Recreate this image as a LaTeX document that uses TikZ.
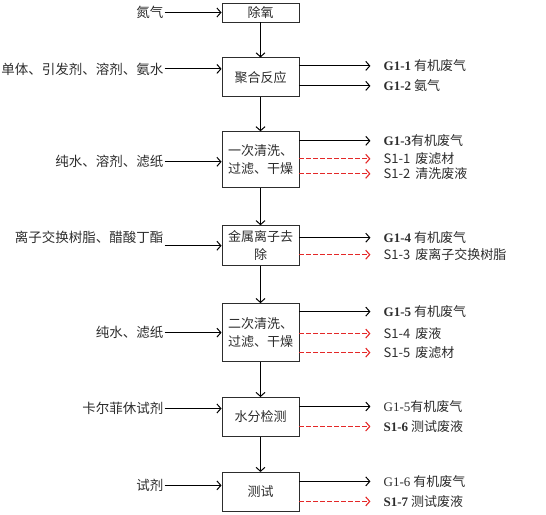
\documentclass[tikz,border=0pt]{standalone}
\usepackage{fontspec}
\usetikzlibrary{arrows.meta,positioning}
\setmainfont{Liberation Serif}
\newfontfamily\cjk{Noto Sans CJK SC}
\newfontfamily\lat{Liberation Serif}
\definecolor{ink}{RGB}{45,45,45}
\definecolor{wred}{RGB}{228,40,40}

\begin{document}
\begin{tikzpicture}[x=1pt,y=1pt,
 box/.style={draw=ink,line width=.9pt,fill=white,minimum width=77pt,inner sep=2pt,align=center,text=ink,font=\cjk\fontsize{13}{18}\selectfont},
 inlab/.style={inner sep=1pt,text=ink,font=\cjk\fontsize{13.5}{15}\selectfont},
 outlab/.style={inner sep=1pt,anchor=west,text=ink,font=\cjk\fontsize{13}{15}\selectfont},
 arr/.style={-{Straight Barb[length=4pt,width=9pt]},line width=1pt,draw=black},
 waste/.style={arr,draw=wred,line width=1.1pt,dash pattern=on 4.5pt off 2.5pt,shorten >=12pt},
 gas/.style={arr,shorten >=12pt}]
\useasboundingbox (0,0) rectangle (546,-514);
% process boxes
\node[box,minimum height=19pt] (b1) at (260.5,-12.5) {除氧};
\node[box,minimum height=39pt,below=35pt of b1] (b2) {聚合反应};
\node[box,minimum height=56pt,below=34pt of b2] (b3) {一次清洗、\\过滤、干燥};
\node[box,minimum height=40pt,below=37pt of b3] (b4) {金属离子去\\除};
\node[box,minimum height=58pt,below=37pt of b4] (b5) {二次清洗、\\过滤、干燥};
\node[box,minimum height=39pt,below=35pt of b5] (b6) {水分检测};
\node[box,minimum height=39pt,below=35pt of b6] (b7) {测试};
\draw[arr] (b1)--(b2); \draw[arr] (b2)--(b3); \draw[arr] (b3)--(b4);
\draw[arr] (b4)--(b5); \draw[arr] (b5)--(b6); \draw[arr] (b6)--(b7);
% inputs
\node[inlab,left=57pt of b1.west] (i1) {氮气};
\node[inlab,left=57pt of b2.west,yshift=8.5pt] (i2) {单体、引发剂、溶剂、氨水};
\node[inlab,left=57pt of b3.west,yshift=-2pt] (i3) {纯水、溶剂、滤纸};
\node[inlab,left=57pt of b4.west,yshift=8pt] (i4) {离子交换树脂、醋酸丁酯};
\node[inlab,left=57pt of b5.west] (i5) {纯水、滤纸};
\node[inlab,left=57pt of b6.west,yshift=8.5pt] (i6) {卡尔菲休试剂};
\node[inlab,left=57pt of b7.west,yshift=6.5pt] (i7) {试剂};
\draw[arr] (i1)--(i1-|b1.west); \draw[arr] (i2)--(i2-|b2.west);
\draw[arr] (i3)--(i3-|b3.west); \draw[arr] (i4.east|-b4.west)--(b4.west);
\draw[arr] (i5)--(i5-|b5.west); \draw[arr] (i6)--(i6-|b6.west);
\draw[arr] (i7)--(i7-|b7.west);
% outputs
\node[outlab,right=83pt of b2.east,yshift=11.5pt] (g11) {{\lat\bfseries G1-1} 有机废气};
\node[outlab,right=83pt of b2.east,yshift=-8.5pt] (g12) {{\lat\bfseries G1-2} 氨气};
\node[outlab,right=83pt of b3.east,yshift=19pt] (g13) {{\lat\bfseries G1-3}有机废气};
\node[outlab,right=83pt of b3.east,yshift=1pt] (s11) {S1-1\hspace{5pt}废滤材};
\node[outlab,right=83pt of b3.east,yshift=-14pt] (s12) {S1-2\hspace{5pt}清洗废液};
\node[outlab,right=83pt of b4.east,yshift=8pt] (g14) {{\lat\bfseries G1-4} 有机废气};
\node[outlab,right=83pt of b4.east,yshift=-9pt] (s13) {S1-3\hspace{5pt}废离子交换树脂};
\node[outlab,right=83pt of b5.east,yshift=21pt] (g15) {{\lat\bfseries G1-5} 有机废气};
\node[outlab,right=83pt of b5.east,yshift=-1pt] (s14) {S1-4\hspace{5pt}废液};
\node[outlab,right=83pt of b5.east,yshift=-20pt] (s15) {S1-5\hspace{5pt}废滤材};
\node[outlab,right=83pt of b6.east,yshift=10.5pt] (g16) {{\lat G1-5}有机废气};
\node[outlab,right=83pt of b6.east,yshift=-9.5pt] (s16) {{\lat\bfseries S1-6} 测试废液};
\node[outlab,right=83pt of b7.east,yshift=10.5pt] (g17) {{\lat G1-6} 有机废气};
\node[outlab,right=83pt of b7.east,yshift=-9.5pt] (s17) {{\lat\bfseries S1-7} 测试废液};
\draw[gas] (g11-|b2.east)--(g11.west); \draw[gas] (g12-|b2.east)--(g12.west);
\draw[gas] (g13-|b3.east)--(g13.west); \draw[waste] (s11-|b3.east)--(s11.west);
\draw[waste] (s12-|b3.east)--(s12.west);
\draw[gas] (g14-|b4.east)--(g14.west); \draw[waste] (s13-|b4.east)--(s13.west);
\draw[gas] (g15-|b5.east)--(g15.west); \draw[waste] (s14-|b5.east)--(s14.west);
\draw[waste] (s15-|b5.east)--(s15.west);
\draw[gas] (g16-|b6.east)--(g16.west); \draw[waste] (s16-|b6.east)--(s16.west);
\draw[gas] (g17-|b7.east)--(g17.west); \draw[waste] (s17-|b7.east)--(s17.west);
\end{tikzpicture}
\end{document}
